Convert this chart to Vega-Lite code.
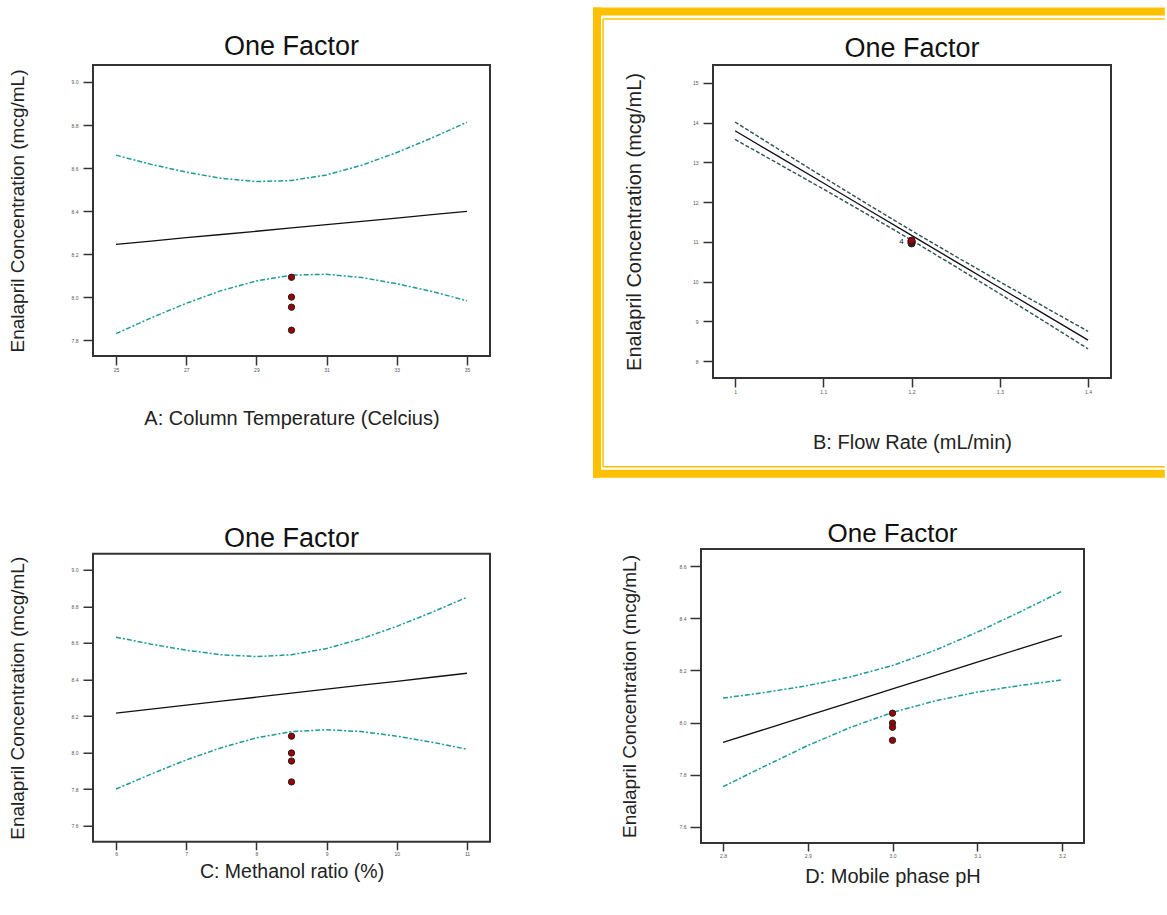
{
  "$schema": "https://vega.github.io/schema/vega-lite/v6.json",
  "background": "white",
  "padding": {"left": 7, "top": 2, "right": 0, "bottom": 0},
  "config": {
    "font": "Liberation Sans",
    "view": {"stroke": "#333333", "strokeWidth": 2},
    "axis": {"grid": false, "domain": false, "tickColor": "#333333", "tickWidth": 1.5, "labelFontSize": 5, "labelColor": "#555555", "titleFontWeight": "normal", "titleColor": "#222222", "titleFont": "Liberation Sans", "labelFont": "Liberation Sans"},
    "title": {"fontWeight": "normal", "color": "#111111", "subtitleColor": "#111111", "subtitleFont": "Liberation Sans", "font": "Liberation Sans"}
  },
  "datasets": {
    "A_curve": [
      {"x": 25, "fit": 8.245, "lo": 7.830, "hi": 8.660},
      {"x": 26, "fit": 8.260, "lo": 7.903, "hi": 8.617},
      {"x": 27, "fit": 8.276, "lo": 7.971, "hi": 8.581},
      {"x": 28, "fit": 8.291, "lo": 8.030, "hi": 8.552},
      {"x": 29, "fit": 8.306, "lo": 8.075, "hi": 8.537},
      {"x": 30, "fit": 8.322, "lo": 8.102, "hi": 8.542},
      {"x": 31, "fit": 8.337, "lo": 8.106, "hi": 8.568},
      {"x": 32, "fit": 8.352, "lo": 8.091, "hi": 8.613},
      {"x": 33, "fit": 8.367, "lo": 8.062, "hi": 8.672},
      {"x": 34, "fit": 8.383, "lo": 8.026, "hi": 8.740},
      {"x": 35, "fit": 8.398, "lo": 7.983, "hi": 8.813}
    ],
    "A_pts": [
      {"x": 30, "y": 8.092}, {"x": 30, "y": 8.0}, {"x": 30, "y": 7.953}, {"x": 30, "y": 7.846}
    ],
    "B_curve": [
      {"x": 1.00, "fit": 13.796, "lo": 13.576, "hi": 14.016},
      {"x": 1.05, "fit": 13.137, "lo": 12.954, "hi": 13.320},
      {"x": 1.10, "fit": 12.479, "lo": 12.328, "hi": 12.630},
      {"x": 1.15, "fit": 11.820, "lo": 11.691, "hi": 11.949},
      {"x": 1.20, "fit": 11.162, "lo": 11.042, "hi": 11.282},
      {"x": 1.25, "fit": 10.503, "lo": 10.374, "hi": 10.632},
      {"x": 1.30, "fit": 9.844, "lo": 9.693, "hi": 9.995},
      {"x": 1.35, "fit": 9.186, "lo": 9.003, "hi": 9.369},
      {"x": 1.40, "fit": 8.527, "lo": 8.307, "hi": 8.747}
    ],
    "B_pts": [
      {"x": 1.2, "y": 10.96}, {"x": 1.2, "y": 10.99}, {"x": 1.2, "y": 11.01}, {"x": 1.2, "y": 11.03}
    ],
    "B_count": [
      {"x": 1.2, "y": 11.0, "n": "4"}
    ],
    "C_curve": [
      {"x": 6.0, "fit": 8.216, "lo": 7.801, "hi": 8.631},
      {"x": 6.5, "fit": 8.238, "lo": 7.883, "hi": 8.593},
      {"x": 7.0, "fit": 8.260, "lo": 7.960, "hi": 8.560},
      {"x": 7.5, "fit": 8.281, "lo": 8.027, "hi": 8.535},
      {"x": 8.0, "fit": 8.303, "lo": 8.081, "hi": 8.525},
      {"x": 8.5, "fit": 8.325, "lo": 8.115, "hi": 8.535},
      {"x": 9.0, "fit": 8.347, "lo": 8.125, "hi": 8.569},
      {"x": 9.5, "fit": 8.369, "lo": 8.115, "hi": 8.623},
      {"x": 10.0, "fit": 8.390, "lo": 8.090, "hi": 8.690},
      {"x": 10.5, "fit": 8.412, "lo": 8.057, "hi": 8.767},
      {"x": 11.0, "fit": 8.434, "lo": 8.019, "hi": 8.849}
    ],
    "C_pts": [
      {"x": 8.5, "y": 8.09}, {"x": 8.5, "y": 7.998}, {"x": 8.5, "y": 7.954}, {"x": 8.5, "y": 7.84}
    ],
    "D_curve": [
      {"x": 2.80, "fit": 7.924, "lo": 7.754, "hi": 8.094},
      {"x": 2.85, "fit": 7.975, "lo": 7.834, "hi": 8.116},
      {"x": 2.90, "fit": 8.027, "lo": 7.912, "hi": 8.142},
      {"x": 2.95, "fit": 8.078, "lo": 7.981, "hi": 8.175},
      {"x": 3.00, "fit": 8.129, "lo": 8.039, "hi": 8.219},
      {"x": 3.05, "fit": 8.180, "lo": 8.083, "hi": 8.277},
      {"x": 3.10, "fit": 8.232, "lo": 8.117, "hi": 8.347},
      {"x": 3.15, "fit": 8.283, "lo": 8.142, "hi": 8.424},
      {"x": 3.20, "fit": 8.334, "lo": 8.164, "hi": 8.504}
    ],
    "D_pts": [
      {"x": 3.0, "y": 8.036}, {"x": 3.0, "y": 7.998}, {"x": 3.0, "y": 7.982}, {"x": 3.0, "y": 7.932}
    ]
  },
  "spacing": 34,
  "vconcat": [
    {
      "spacing": 97,
      "hconcat": [
        {
          "width": 397, "height": 291,
          "title": {"text": "One Factor", "fontSize": 27, "offset": 4, "anchor": "middle"},
          "encoding": {
            "x": {"field": "x", "type": "quantitative", "title": "A: Column Temperature (Celcius)", "scale": {"domain": [24.345, 35.655], "nice": false, "zero": false}, "axis": {"values": [25, 27, 29, 31, 33, 35], "tickSize": 9, "labelPadding": 2, "titlePadding": 36, "titleFontSize": 20}},
            "y": {"field": "y", "type": "quantitative", "title": "Enalapril Concentration (mcg/mL)", "scale": {"domain": [7.726, 9.079], "nice": false, "zero": false}, "axis": {"values": [7.8, 8, 8.2, 8.4, 8.6, 8.8, 9], "tickSize": 10, "labelPadding": 5, "titlePadding": 44, "titleFontSize": 19}}
          },
          "layer": [
            {"data": {"name": "A_curve"}, "transform": [{"fold": ["fit", "lo", "hi"], "as": ["s", "y"]}, {"filter": "datum.s == 'fit'"}], "mark": {"type": "line", "color": "#111111", "strokeWidth": 1.3}},
            {"data": {"name": "A_curve"}, "transform": [{"fold": ["fit", "lo", "hi"], "as": ["s", "y"]}, {"filter": "datum.s != 'fit'"}], "mark": {"type": "line", "color": "#1f9a9a", "strokeWidth": 1.5, "strokeDash": [5, 2, 2, 2]}, "encoding": {"detail": {"field": "s"}}},
            {"data": {"name": "A_pts"}, "mark": {"type": "point", "filled": true, "fill": "#9b0000", "stroke": "#222222", "strokeWidth": 1, "size": 40, "opacity": 1}}
          ]
        },
        {
          "width": 398, "height": 313,
          "title": {"text": "One Factor", "fontSize": 27, "offset": -59.5, "anchor": "middle"},
          "layer": [
            {"data": {"values": [{"k": 1}]}, "mark": {"type": "rule", "color": "#FFC000", "strokeWidth": 8}, "encoding": {"x": {"datum": 0.8391, "type": "quantitative"}, "x2": {"datum": 1.487}, "y": {"datum": 16.794, "type": "quantitative"}}},
            {"data": {"values": [{"k": 1}]}, "mark": {"type": "rule", "color": "#FFC000", "strokeWidth": 8}, "encoding": {"x": {"datum": 0.8391, "type": "quantitative"}, "x2": {"datum": 1.487}, "y": {"datum": 5.165, "type": "quantitative"}}},
            {"data": {"values": [{"k": 1}]}, "mark": {"type": "rule", "color": "#FFC000", "strokeWidth": 8}, "encoding": {"x": {"datum": 0.8436, "type": "quantitative"}, "y": {"datum": 16.894, "type": "quantitative"}, "y2": {"datum": 5.065}}},
            {"data": {"values": [{"k": 1}]}, "mark": {"type": "rule", "color": "#FFC000", "strokeWidth": 1.5}, "encoding": {"x": {"datum": 0.8504, "type": "quantitative"}, "x2": {"datum": 1.487}, "y": {"datum": 16.606, "type": "quantitative"}}},
            {"data": {"values": [{"k": 1}]}, "mark": {"type": "rule", "color": "#FFC000", "strokeWidth": 1.5}, "encoding": {"x": {"datum": 0.8504, "type": "quantitative"}, "x2": {"datum": 1.487}, "y": {"datum": 5.341, "type": "quantitative"}}},
            {"data": {"values": [{"k": 1}]}, "mark": {"type": "rule", "color": "#FFC000", "strokeWidth": 1.5}, "encoding": {"x": {"datum": 0.8504, "type": "quantitative"}, "y": {"datum": 16.606, "type": "quantitative"}, "y2": {"datum": 5.341}}},
            {"data": {"name": "B_curve"}, "transform": [{"fold": ["fit", "lo", "hi"], "as": ["s", "y"]}, {"filter": "datum.s == 'fit'"}], "mark": {"type": "line", "color": "#111111", "strokeWidth": 1.3},
             "encoding": {
               "x": {"field": "x", "type": "quantitative", "title": "B: Flow Rate (mL/min)", "scale": {"domain": [0.975, 1.426], "nice": false, "zero": false}, "axis": {"values": [1, 1.1, 1.2, 1.3, 1.4], "format": "~g", "tickSize": 9, "labelPadding": 2, "titlePadding": 38, "titleFontSize": 20}},
               "y": {"field": "y", "type": "quantitative", "title": "Enalapril Concentration (mcg/mL)", "scale": {"domain": [7.573, 15.45], "nice": false, "zero": false}, "axis": {"values": [8, 9, 10, 11, 12, 13, 14, 15], "tickSize": 10, "labelPadding": 5, "titlePadding": 48, "titleFontSize": 20}}
             }},
            {"data": {"name": "B_curve"}, "transform": [{"fold": ["fit", "lo", "hi"], "as": ["s", "y"]}, {"filter": "datum.s != 'fit'"}], "mark": {"type": "line", "color": "#2f4f4f", "strokeWidth": 1.4, "strokeDash": [4, 2]},
             "encoding": {
               "x": {"field": "x", "type": "quantitative", "title": "B: Flow Rate (mL/min)", "scale": {"domain": [0.975, 1.426], "nice": false, "zero": false}},
               "y": {"field": "y", "type": "quantitative", "title": "Enalapril Concentration (mcg/mL)", "scale": {"domain": [7.573, 15.45], "nice": false, "zero": false}},
               "detail": {"field": "s"}
             }},
            {"data": {"name": "B_pts"}, "mark": {"type": "point", "filled": true, "fill": "#9b0000", "stroke": "#222222", "strokeWidth": 1, "size": 50, "opacity": 1},
             "encoding": {
               "x": {"field": "x", "type": "quantitative", "title": "B: Flow Rate (mL/min)", "scale": {"domain": [0.975, 1.426], "nice": false, "zero": false}},
               "y": {"field": "y", "type": "quantitative", "title": "Enalapril Concentration (mcg/mL)", "scale": {"domain": [7.573, 15.45], "nice": false, "zero": false}}
             }},
            {"data": {"name": "B_count"}, "mark": {"type": "text", "dx": -10, "fontSize": 8, "color": "#111111", "font": "Liberation Sans"},
             "encoding": {
               "x": {"field": "x", "type": "quantitative", "title": "B: Flow Rate (mL/min)", "scale": {"domain": [0.975, 1.426], "nice": false, "zero": false}},
               "y": {"field": "y", "type": "quantitative", "title": "Enalapril Concentration (mcg/mL)", "scale": {"domain": [7.573, 15.45], "nice": false, "zero": false}},
               "text": {"field": "n"}
             }}
          ]
        }
      ]
    },
    {
      "spacing": 128,
      "center": true,
      "hconcat": [
        {
          "width": 397, "height": 288,
          "title": {"text": " ", "fontSize": 5, "subtitle": "One Factor", "subtitleFontSize": 27, "subtitlePadding": 2, "offset": 2, "anchor": "middle"},
          "encoding": {
            "x": {"field": "x", "type": "quantitative", "title": "C: Methanol ratio (%)", "scale": {"domain": [5.672, 11.328], "nice": false, "zero": false}, "axis": {"values": [6, 7, 8, 9, 10, 11], "tickSize": 8, "labelPadding": 2, "titlePadding": 6, "titleFontSize": 19.5}},
            "y": {"field": "y", "type": "quantitative", "title": "Enalapril Concentration (mcg/mL)", "scale": {"domain": [7.513, 9.087], "nice": false, "zero": false}, "axis": {"values": [7.6, 7.8, 8, 8.2, 8.4, 8.6, 8.8, 9], "tickSize": 10, "labelPadding": 5, "titlePadding": 44, "titleFontSize": 19}}
          },
          "layer": [
            {"data": {"name": "C_curve"}, "transform": [{"fold": ["fit", "lo", "hi"], "as": ["s", "y"]}, {"filter": "datum.s == 'fit'"}], "mark": {"type": "line", "color": "#111111", "strokeWidth": 1.3}},
            {"data": {"name": "C_curve"}, "transform": [{"fold": ["fit", "lo", "hi"], "as": ["s", "y"]}, {"filter": "datum.s != 'fit'"}], "mark": {"type": "line", "color": "#1f9a9a", "strokeWidth": 1.5, "strokeDash": [5, 2, 2, 2]}, "encoding": {"detail": {"field": "s"}}},
            {"data": {"name": "C_pts"}, "mark": {"type": "point", "filled": true, "fill": "#9b0000", "stroke": "#222222", "strokeWidth": 1, "size": 40, "opacity": 1}}
          ]
        },
        {
          "width": 383, "height": 294,
          "title": {"text": "One Factor", "fontSize": 26, "offset": 2, "anchor": "middle"},
          "encoding": {
            "x": {"field": "x", "type": "quantitative", "title": "D: Mobile phase pH", "scale": {"domain": [2.774, 3.226], "nice": false, "zero": false}, "axis": {"values": [2.8, 2.9, 3, 3.1, 3.2], "tickSize": 8, "labelPadding": 2, "titlePadding": 8, "titleFontSize": 20}},
            "y": {"field": "y", "type": "quantitative", "title": "Enalapril Concentration (mcg/mL)", "scale": {"domain": [7.538, 8.666], "nice": false, "zero": false}, "axis": {"values": [7.6, 7.8, 8, 8.2, 8.4, 8.6], "tickSize": 11, "labelPadding": 4, "titlePadding": 40, "titleFontSize": 19}}
          },
          "layer": [
            {"data": {"name": "D_curve"}, "transform": [{"fold": ["fit", "lo", "hi"], "as": ["s", "y"]}, {"filter": "datum.s == 'fit'"}], "mark": {"type": "line", "color": "#111111", "strokeWidth": 1.3}},
            {"data": {"name": "D_curve"}, "transform": [{"fold": ["fit", "lo", "hi"], "as": ["s", "y"]}, {"filter": "datum.s != 'fit'"}], "mark": {"type": "line", "color": "#1f9a9a", "strokeWidth": 1.5, "strokeDash": [5, 2, 2, 2]}, "encoding": {"detail": {"field": "s"}}},
            {"data": {"name": "D_pts"}, "mark": {"type": "point", "filled": true, "fill": "#9b0000", "stroke": "#222222", "strokeWidth": 1, "size": 40, "opacity": 1}}
          ]
        }
      ]
    }
  ]
}
